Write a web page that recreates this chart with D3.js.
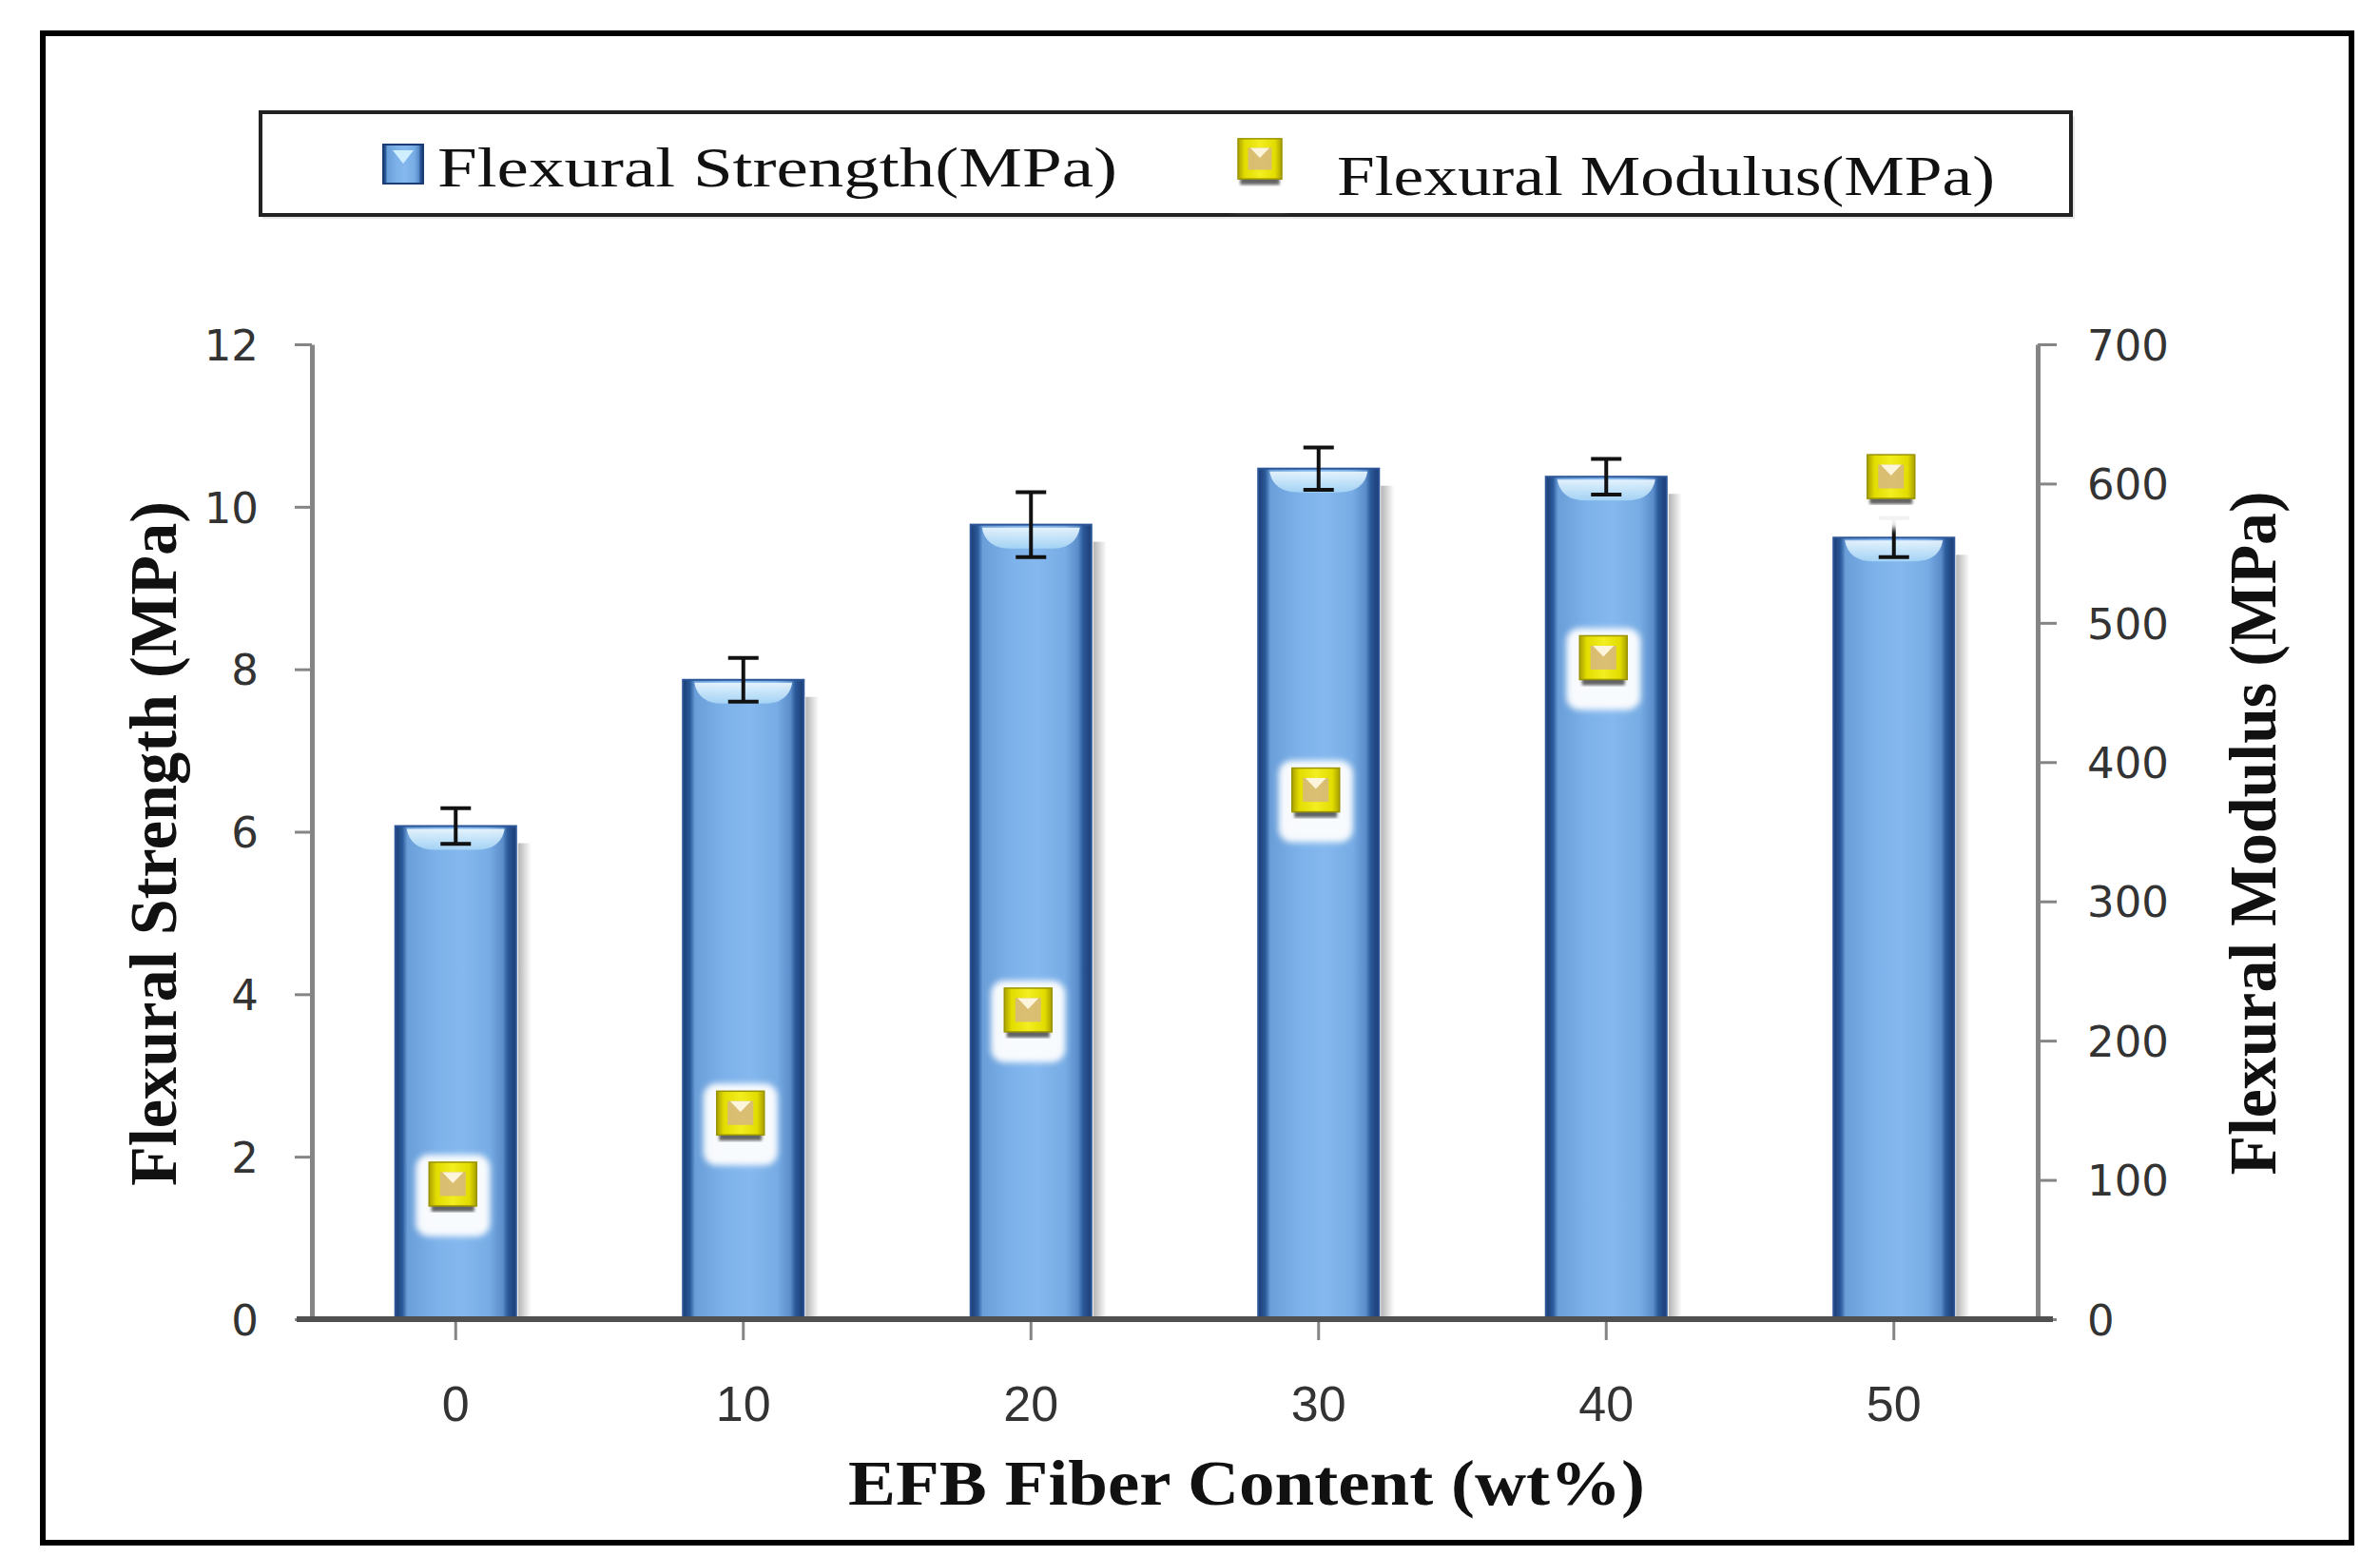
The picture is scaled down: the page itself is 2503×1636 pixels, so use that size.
<!DOCTYPE html>
<html>
  <head>
    <script src="https://cdnjs.cloudflare.com/ajax/libs/d3/7.8.5/d3.min.js"></script>
    <style>
      body { margin: 0; background: #fff; }
      .tick text { fill: #333; }
      .yaxis text { font-family: "DejaVu Sans", sans-serif; font-size: 45px; }
      .xaxis text { font-family: "Liberation Sans", sans-serif; font-size: 52px; }
      .title { font-family: "Liberation Serif", serif; font-weight: bold; fill: #111; }
      .legend text { font-family: "Liberation Serif", serif; font-size: 60px; fill: #111; }
    </style>
  </head>
  <body>
    <svg width="2503" height="1636"></svg>
    <script>
      // values
      var fiberContent = ["0", "10", "20", "30", "40", "50"];
      var strength = [6.07, 7.87, 9.78, 10.47, 10.37, 9.62];
      var strengthErr = [0.22, 0.27, 0.4, 0.26, 0.22, 0.24];
      var modulus = [97, 148, 222, 380, 475, 605];
      var strengthTicks = [0, 2, 4, 6, 8, 10, 12];
      var modulusTicks = [0, 100, 200, 300, 400, 500, 600, 700];

      var svg = d3.select("svg");
      var defs = svg.append("defs");

      // gradients for the glossy bars and markers
      var bg = defs.append("linearGradient").attr("id", "barGrad").attr("x1", 0).attr("x2", 1).attr("y1", 0).attr("y2", 0);
      [["0%", "#1c3c74"], ["6%", "#2b5a9a"], ["10%", "#6a9ed8"], ["35%", "#7db2ea"], ["55%", "#84b8ee"], ["78%", "#77ace4"], ["89%", "#5b8dca"], ["93%", "#2b5a9a"], ["100%", "#1c3c74"]]
        .forEach(s => bg.append("stop").attr("offset", s[0]).attr("stop-color", s[1]));

      var hg = defs.append("linearGradient").attr("id", "hiGrad").attr("x1", 0).attr("x2", 0).attr("y1", 0).attr("y2", 1);
      hg.append("stop").attr("offset", "0%").attr("stop-color", "#eefaff");
      hg.append("stop").attr("offset", "100%").attr("stop-color", "#a8d6f6");

      var sg = defs.append("linearGradient").attr("id", "shadowGrad").attr("x1", 0).attr("x2", 1);
      sg.append("stop").attr("offset", "0%").attr("stop-color", "#b4b4b4");
      sg.append("stop").attr("offset", "100%").attr("stop-color", "#ffffff");

      var yg = defs.append("linearGradient").attr("id", "yelGrad").attr("x1", 0).attr("x2", 1);
      [["0%", "#a8a000"], ["15%", "#e2dc00"], ["50%", "#f2ee20"], ["85%", "#e2dc00"], ["100%", "#a8a000"]]
        .forEach(s => yg.append("stop").attr("offset", s[0]).attr("stop-color", s[1]));

      defs.append("filter").attr("id", "blur").append("feGaussianBlur").attr("stdDeviation", 3);
      defs.append("filter").attr("id", "blurS").append("feGaussianBlur").attr("stdDeviation", 1.5);

      // frame
      svg.append("rect").attr("x", 45).attr("y", 35).attr("width", 2428).attr("height", 1587)
        .attr("fill", "#fff").attr("stroke", "#000").attr("stroke-width", 6);

      var x = d3.scaleBand().domain(fiberContent).range([328, 2143]).paddingInner(0.58).paddingOuter(0.29);
      var y = d3.scaleLinear().domain([0, 12]).range([1387, 362]);
      var y2 = d3.scaleLinear().domain([0, 700]).range([1387, 362]);

      // bars
      var bars = svg.append("g").selectAll("g").data(strength).enter().append("g");
      bars.append("rect")
        .attr("x", (d, i) => x(fiberContent[i]) + x.bandwidth() + 2)
        .attr("y", d => y(d) + 18)
        .attr("width", 14)
        .attr("height", d => y(0) - y(d) - 18)
        .attr("fill", "url(#shadowGrad)");
      bars.append("rect")
        .attr("x", (d, i) => x(fiberContent[i]))
        .attr("y", d => y(d))
        .attr("width", x.bandwidth())
        .attr("height", d => y(0) - y(d))
        .attr("fill", "url(#barGrad)")
        .attr("stroke", "#2b5597")
        .attr("stroke-width", 2);
      bars.append("path")
        .attr("d", (d, i) => {
          var x0 = x(fiberContent[i]) + 12, x1 = x(fiberContent[i]) + x.bandwidth() - 12, t = y(d) + 3;
          return "M" + x0 + "," + t + "L" + x1 + "," + t + "Q" + (x1 - 4) + "," + (t + 22) + " " + (x1 - 30) + "," + (t + 22)
            + "L" + (x0 + 30) + "," + (t + 22) + "Q" + (x0 + 4) + "," + (t + 22) + " " + x0 + "," + t + "Z";
        })
        .attr("fill", "url(#hiGrad)")
        .attr("opacity", 0.9);

      // error bars
      var cx = i => x(fiberContent[i]) + x.bandwidth() / 2;
      var eb = svg.append("g").attr("stroke", "#111").attr("stroke-width", 4);
      strength.forEach((d, i) => {
        eb.append("line").attr("x1", cx(i)).attr("x2", cx(i)).attr("y1", y(d + strengthErr[i])).attr("y2", y(d - strengthErr[i]));
        eb.append("line").attr("x1", cx(i) - 16).attr("x2", cx(i) + 16).attr("y1", y(d + strengthErr[i])).attr("y2", y(d + strengthErr[i]));
        eb.append("line").attr("x1", cx(i) - 16).attr("x2", cx(i) + 16).attr("y1", y(d - strengthErr[i])).attr("y2", y(d - strengthErr[i]));
      });

      // modulus markers
      function marker(g, mx, my, w) {
        g.append("rect").attr("x", mx - w * 0.5 - 14).attr("y", my - w * 0.5 - 6).attr("width", w + 28).attr("height", w + 36)
          .attr("rx", 14).attr("fill", "#fff").attr("opacity", 0.95).attr("filter", "url(#blur)");
        g.append("rect").attr("x", mx - w * 0.45).attr("y", my + w * 0.42).attr("width", w * 0.9).attr("height", 8)
          .attr("fill", "#222").attr("opacity", 0.7).attr("filter", "url(#blurS)");
        g.append("rect").attr("x", mx - w / 2).attr("y", my - w * 0.46).attr("width", w).attr("height", w * 0.92)
          .attr("fill", "url(#yelGrad)").attr("stroke", "#9a9400").attr("stroke-width", 1.5);
        g.append("rect").attr("x", mx - w * 0.27).attr("y", my - w * 0.25).attr("width", w * 0.54).attr("height", w * 0.5)
          .attr("fill", "#d6b682").attr("opacity", 0.85);
        g.append("path").attr("d", "M" + (mx - w * 0.22) + "," + (my - w * 0.25) + "L" + (mx + w * 0.22) + "," + (my - w * 0.25) + "L" + mx + "," + (my - w * 0.02) + "Z")
          .attr("fill", "#fffbe8").attr("opacity", 0.9);
      }
      var mk = svg.append("g");
      modulus.forEach((d, i) => marker(mk, cx(i) - 3, y2(d), 50));

      // axes
      var gl = svg.append("g").attr("class", "yaxis").attr("transform", "translate(328,0)")
        .call(d3.axisLeft(y).tickValues(strengthTicks).tickSize(18).tickSizeOuter(0).tickPadding(38));
      var gr = svg.append("g").attr("class", "yaxis").attr("transform", "translate(2143,0)")
        .call(d3.axisRight(y2).tickValues(modulusTicks).tickSize(20).tickSizeOuter(0).tickPadding(32));
      [gl, gr].forEach(g => {
        g.select(".domain").attr("stroke", "#858585").attr("stroke-width", 5);
        g.selectAll(".tick line").attr("stroke", "#858585").attr("stroke-width", 3);
        g.selectAll(".tick text").attr("dy", "0.36em");
      });

      var gx = svg.append("g").attr("class", "xaxis").attr("transform", "translate(0,1387)")
        .call(d3.axisBottom(x).tickSize(22).tickSizeOuter(0).tickPadding(48));
      gx.select(".domain").remove();
      gx.selectAll(".tick line").attr("stroke", "#858585").attr("stroke-width", 3);
      gx.append("line").attr("x1", x.range()[0] - 16).attr("x2", x.range()[1] + 16).attr("y1", 0).attr("y2", 0)
        .attr("stroke", "#505050").attr("stroke-width", 6);

      // axis titles
      svg.append("text").attr("class", "title").attr("transform", "translate(185,887) rotate(-90)")
        .attr("text-anchor", "middle").attr("font-size", 70).attr("textLength", 720).attr("lengthAdjust", "spacingAndGlyphs")
        .text("Flexural Strength (MPa)");
      svg.append("text").attr("class", "title").attr("transform", "translate(2393,876) rotate(-90)")
        .attr("text-anchor", "middle").attr("font-size", 70).attr("textLength", 719).attr("lengthAdjust", "spacingAndGlyphs")
        .text("Flexural Modulus (MPa)");
      svg.append("text").attr("class", "title").attr("x", 1311).attr("y", 1582)
        .attr("text-anchor", "middle").attr("font-size", 68).attr("textLength", 838).attr("lengthAdjust", "spacingAndGlyphs")
        .text("EFB Fiber Content (wt%)");

      // legend
      var lg = svg.append("g").attr("class", "legend");
      lg.append("rect").attr("x", 276).attr("y", 122).attr("width", 1906).attr("height", 108).attr("fill", "#e6e6e6");
      lg.append("rect").attr("x", 274).attr("y", 118).attr("width", 1904).attr("height", 108)
        .attr("fill", "#fff").attr("stroke", "#222").attr("stroke-width", 4);
      lg.append("rect").attr("x", 403).attr("y", 152).attr("width", 42).attr("height", 41)
        .attr("fill", "url(#barGrad)").attr("stroke", "#1c3c74").attr("stroke-width", 2);
      lg.append("path").attr("d", "M413,158L435,158L424,172Z").attr("fill", "#cfeeff");
      lg.append("text").attr("x", 460).attr("y", 196).attr("textLength", 715).attr("lengthAdjust", "spacingAndGlyphs")
        .text("Flexural Strength(MPa)");
      marker(lg.append("g"), 1325, 167, 46);
      lg.append("text").attr("x", 1406).attr("y", 205).attr("textLength", 692).attr("lengthAdjust", "spacingAndGlyphs")
        .text("Flexural Modulus(MPa)");
    </script>
  </body>
</html>
